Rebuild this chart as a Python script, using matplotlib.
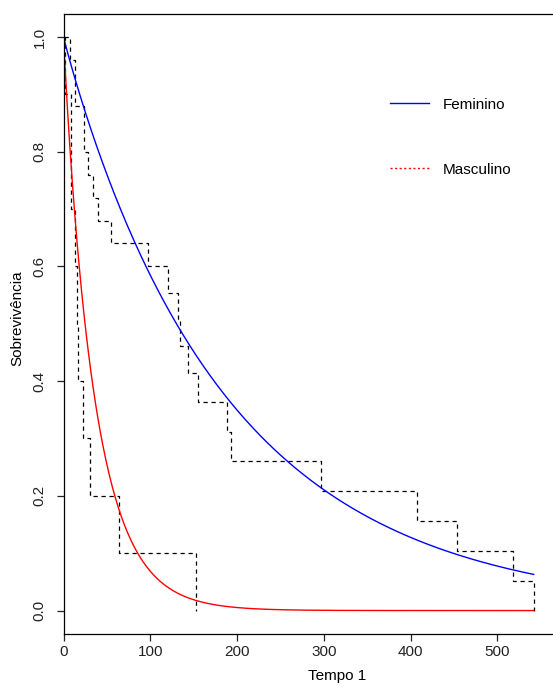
import numpy as np
import matplotlib
matplotlib.use("Agg")
import matplotlib.pyplot as plt
from matplotlib.lines import Line2D

plt.rcParams['font.family'] = ['Liberation Sans', 'DejaVu Sans']

# Kaplan-Meier estimates (time, survival) for each group
fem_times = [0, 7.5, 13.6, 24, 28.2, 34, 39.8, 54.4, 97.7, 120.8, 132.3, 134.3,
             143.2, 154.7, 188.1, 192.7, 296.5, 407.5, 453.6, 518.2, 542]
fem_surv = [1.0, 0.96, 0.88, 0.80, 0.76, 0.72, 0.68, 0.64, 0.60, 0.554, 0.508,
            0.462, 0.415, 0.363, 0.312, 0.260, 0.208, 0.156, 0.104, 0.052, 0.0]

masc_times = [0, 2.3, 8.3, 12.9, 15.9, 17.0, 22.8, 30.5, 63.8, 153]
masc_surv = [1.0, 0.9, 0.7, 0.6, 0.5, 0.4, 0.3, 0.2, 0.1, 0.0]

# Fitted Weibull model: common shape, group-specific scale
weib_shape = 0.97
fem_scale = 190.0
masc_scale = 36.2
t_max = 542

x_ticks = [0, 100, 200, 300, 400, 500]
y_ticks = [0.0, 0.2, 0.4, 0.6, 0.8, 1.0]

FS = 11
W, H = 553, 686
fig = plt.figure(figsize=(W / 100, H / 100), dpi=100)
left, right, top, bottom = 63.5, 553, 14, 633.5
ax = fig.add_axes([left / W, 1 - bottom / H, (right - left) / W, (bottom - top) / H])

ax.set_xlim(0, (right - left) / 0.8675)
ax.set_ylim(-0.04, 1.04)

dash = (0, (3.4, 3.0))
ax.step(fem_times, fem_surv, where='post', color='black', lw=0.9, linestyle=dash)
ax.step(masc_times, masc_surv, where='post', color='black', lw=0.9, linestyle=dash)

t = np.linspace(0, t_max, 600)
ax.plot(t, np.exp(-(t / fem_scale) ** weib_shape), color='#0000FF', lw=1.0)
ax.plot(t, np.exp(-(t / masc_scale) ** weib_shape), color='#FF0000', lw=1.0)

ax.spines['right'].set_visible(False)
for s in ['left', 'bottom', 'top']:
    ax.spines[s].set_linewidth(0.9)

ax.set_xticks(x_ticks)
ax.set_xticklabels([str(v) for v in x_ticks])
ax.set_yticks(y_ticks)
ax.set_yticklabels([f"{v:.1f}" for v in y_ticks], rotation=90, va='center')
ax.tick_params(direction='out', length=5, width=0.9, labelsize=FS, colors='#222222')
ax.tick_params(axis='x', pad=3.5)
ax.tick_params(axis='y', pad=7)

fig.text(17 / W, 1 - 318 / H, "Sobrevivência", rotation=90, ha='center', va='center', fontsize=FS)
fig.text((left + 274) / W, 1 - 676 / H, "Tempo 1", ha='center', va='center', fontsize=FS)

handles = [Line2D([], [], color='#0000FF', lw=1.0),
           Line2D([], [], color='#FF0000', lw=1.0, linestyle=(0, (1.5, 1.8)))]
leg = ax.legend(handles, ["Feminino", "Masculino"], loc='upper left',
                bbox_to_anchor=((382 - left) / (right - left), 1 - (90 - top) / (bottom - top)),
                frameon=False, fontsize=FS, handlelength=2.55, handletextpad=0.95,
                labelspacing=3.35, borderpad=0)

fig.savefig("out.png", dpi=100)
